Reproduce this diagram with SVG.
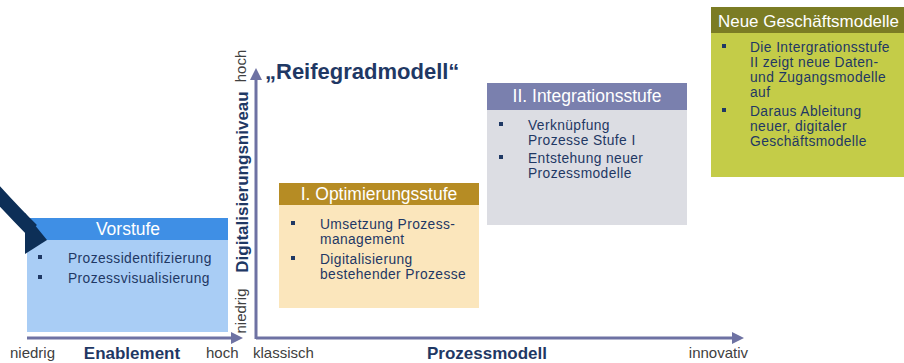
<svg xmlns="http://www.w3.org/2000/svg" width="904" height="363" viewBox="0 0 904 363">
<style>
text{font-family:"Liberation Sans",Arial,sans-serif}
.hd{font-size:17.5px;fill:#ffffff}
.bt{font-size:13.8px;letter-spacing:0.4px;fill:#1f3864}
.bl{fill:#1f3864}
.ax{stroke:#6e72a3;stroke-width:3;fill:none}
.axh{fill:#6e72a3}
.lab{font-size:15px;fill:#404040}
.bold{font-size:17px;font-weight:bold;fill:#1f3864}
</style>
<rect width="904" height="363" fill="#ffffff"/>

<g id="title">
  <text x="265" y="79" font-size="22" font-weight="bold" fill="#1f3864">„Reifegradmodell“</text>
</g>

<g id="axis-labels">
  <text class="lab" x="10" y="358">niedrig</text>
  <text class="bold" x="132" y="359" text-anchor="middle">Enablement</text>
  <text class="lab" x="206" y="358">hoch</text>
  <text class="lab" x="253" y="358">klassisch</text>
  <text class="bold" x="487" y="359" text-anchor="middle" font-size="16.5">Prozessmodell</text>
  <text class="lab" x="748" y="358" text-anchor="end">innovativ</text>
  <text class="lab" transform="translate(246,66) rotate(-90)" text-anchor="middle">hoch</text>
  <text class="bold" transform="translate(248,182) rotate(-90)" text-anchor="middle">Digitalisierungsniveau</text>
  <text class="lab" transform="translate(246,311) rotate(-90)" text-anchor="middle">niedrig</text>
</g>

<g id="vorstufe">
  <rect x="27" y="240" width="201" height="92" fill="#a9cdf5"/>
  <rect x="27" y="218" width="201" height="22" fill="#3f8fe5"/>
  <text class="hd" x="128" y="235" text-anchor="middle">Vorstufe</text>
  <rect class="bl" x="38" y="255" width="4" height="4"/>
  <text class="bt" x="68" y="263">Prozessidentifizierung</text>
  <rect class="bl" x="38" y="275" width="4" height="4"/>
  <text class="bt" x="68" y="283">Prozessvisualisierung</text>
</g>

<g id="optimierung">
  <rect x="279" y="205" width="200" height="103" fill="#fbe6bc"/>
  <rect x="279" y="183" width="200" height="22" fill="#b68c24"/>
  <text class="hd" x="379" y="200" text-anchor="middle">I. Optimierungsstufe</text>
  <rect class="bl" x="291" y="221" width="4" height="4"/>
  <text class="bt" x="320" y="229">Umsetzung Prozess-</text>
  <text class="bt" x="320" y="244">management</text>
  <rect class="bl" x="291" y="256" width="4" height="4"/>
  <text class="bt" x="320" y="264">Digitalisierung</text>
  <text class="bt" x="320" y="279">bestehender Prozesse</text>
</g>

<g id="integration">
  <rect x="487" y="110" width="200" height="115" fill="#dcdde3"/>
  <rect x="487" y="83" width="200" height="27" fill="#7a80ae"/>
  <text class="hd" x="587" y="102" text-anchor="middle">II. Integrationsstufe</text>
  <rect class="bl" x="499" y="122" width="4" height="4"/>
  <text class="bt" x="528" y="130">Verknüpfung</text>
  <text class="bt" x="528" y="145">Prozesse Stufe I</text>
  <rect class="bl" x="499" y="155" width="4" height="4"/>
  <text class="bt" x="528" y="163">Entstehung neuer</text>
  <text class="bt" x="528" y="178">Prozessmodelle</text>
</g>

<g id="geschaeftsmodelle">
  <rect x="711" y="33" width="193" height="144" fill="#c4cc48"/>
  <rect x="711" y="7" width="193" height="26" fill="#7b7c24"/>
  <text class="hd" x="718" y="27" textLength="181" lengthAdjust="spacingAndGlyphs" style="font-size:16.5px">Neue Geschäftsmodelle</text>
  <rect class="bl" x="722" y="44" width="4" height="4"/>
  <text class="bt" x="750" y="52">Die Intergrationsstufe</text>
  <text class="bt" x="750" y="67">II zeigt neue Daten-</text>
  <text class="bt" x="750" y="82">und Zugangsmodelle</text>
  <text class="bt" x="750" y="97">auf</text>
  <rect class="bl" x="722" y="108" width="4" height="4"/>
  <text class="bt" x="750" y="116">Daraus Ableitung</text>
  <text class="bt" x="750" y="131">neuer, digitaler</text>
  <text class="bt" x="750" y="146">Geschäftsmodelle</text>
</g>

<g id="connectors">
  <line class="ax" x1="27" y1="338" x2="233" y2="338"/>
  <polygon class="axh" points="231,332 243,338 231,344"/>
  <line class="ax" x1="256" y1="339" x2="256" y2="78"/>
  <polygon class="axh" points="250,80 256,68 262,80"/>
  <line class="ax" x1="256" y1="338" x2="734" y2="338"/>
  <polygon class="axh" points="732,332 744,338 732,344"/>
  <path d="M -6,190 Q 14,212 32,230" stroke="#0d2f57" stroke-width="14" fill="none"/>
  <polygon points="25,213 47,240 25,254" fill="#0d2f57"/>
</g>
</svg>
